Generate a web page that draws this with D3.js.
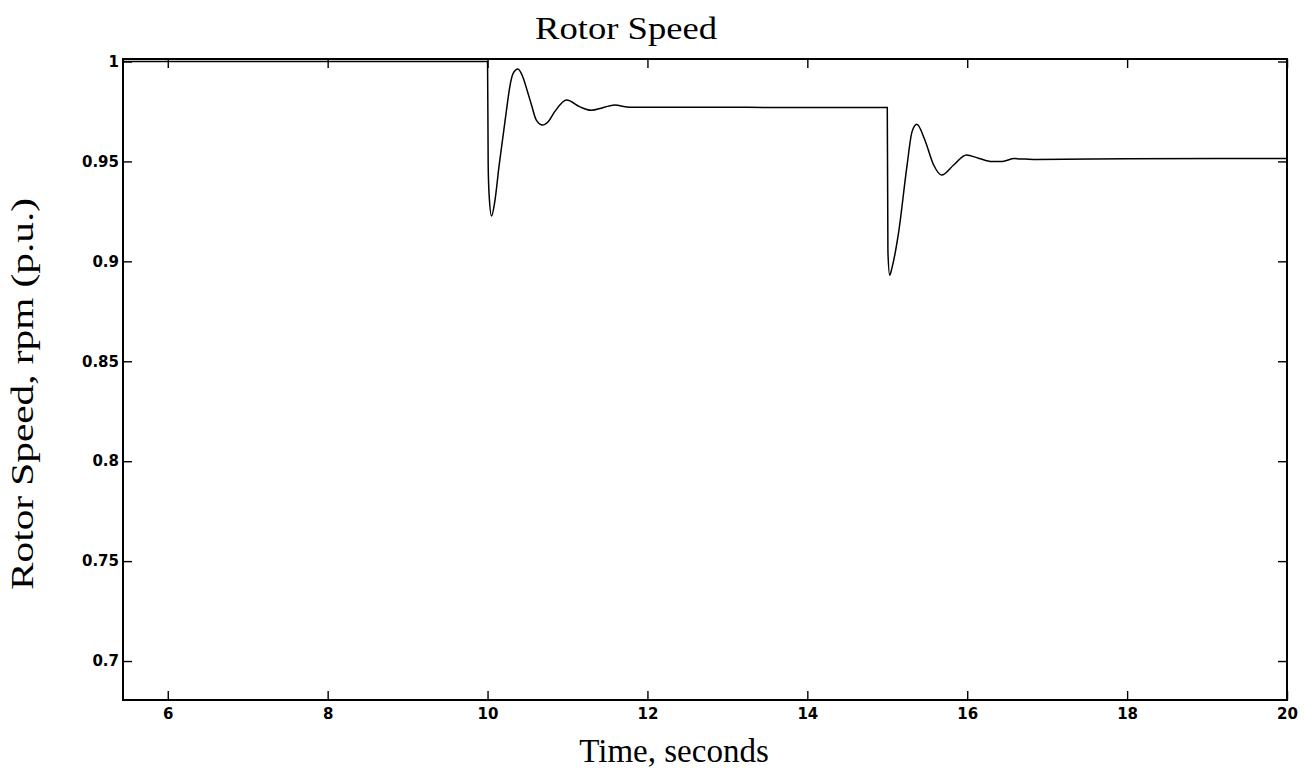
<!DOCTYPE html>
<html>
<head>
<meta charset="utf-8">
<script src="https://cdn.jsdelivr.net/npm/d3@7"></script>
<style>
  body { margin: 0; background: #fff; }
  .tick text { font-family: "DejaVu Sans", sans-serif; font-weight: bold; font-size: 15px; fill: #000; }
  .label { font-family: "Liberation Serif", "Times New Roman", serif; fill: #000; }
</style>
</head>
<body>
<svg id="chart" width="1304" height="768"></svg>
<script>
// rotor speed (time in s, speed in p.u.)
const timeValues = [
    5.44, 10.0, 10.008, 10.02, 10.05, 10.09, 10.145, 10.19, 10.24, 10.275, 10.32, 10.38,
    10.44, 10.50, 10.55, 10.61, 10.69, 10.76, 10.84, 10.99, 11.15, 11.30, 11.44, 11.59,
    11.78, 12.5, 14.0, 15.0,
    15.008, 15.03, 15.06, 15.14, 15.245, 15.31, 15.37, 15.47, 15.58, 15.68, 15.83, 15.99,
    16.14, 16.31, 16.44, 16.59, 16.86, 18.0, 20.0
];
const speedValues = [
    1.0, 1.0, 0.948, 0.933, 0.9227, 0.9298, 0.948, 0.9616, 0.9766, 0.9866, 0.9941, 0.9962,
    0.9924, 0.9849, 0.9782, 0.9707, 0.9682, 0.970, 0.9749, 0.9807, 0.9774, 0.9756, 0.9769, 0.9782,
    0.9771, 0.9771, 0.977, 0.977,
    0.905, 0.8931, 0.897, 0.914, 0.9473, 0.9649, 0.9686, 0.9607, 0.9482, 0.9432, 0.9482, 0.9532,
    0.9516, 0.9499, 0.950, 0.9514, 0.951, 0.9513, 0.9515
];
const xTicks = [6, 8, 10, 12, 14, 16, 18, 20];
const yTicks = [0.7, 0.75, 0.8, 0.85, 0.9, 0.95, 1];

const titleText = "Rotor Speed";
const xLabelText = "Time, seconds";
const yLabelText = "Rotor Speed, rpm (p.u.)";

const data = timeValues.map((t, i) => ({ t: t, v: speedValues[i] }));

const svg = d3.select("#chart");
const plotLeft = 123, plotRight = 1287, plotTop = 59, plotBottom = 700;

const x = d3.scaleLinear().domain([5.44, 20]).range([plotLeft, plotRight]);
const y = d3.scaleLinear().domain([0.6805, 1.00125]).range([plotBottom, plotTop]);

const fmt = d => String(+d.toFixed(2));
const tickLen = 9;

// outer axes with labels, inner (top/right) mirrors without labels
svg.append("g")
    .attr("transform", `translate(0,${plotBottom})`)
    .call(d3.axisBottom(x).tickValues(xTicks).tickFormat(fmt).tickSizeInner(-tickLen).tickSizeOuter(0).tickPadding(8));
svg.append("g")
    .attr("transform", `translate(${plotLeft},0)`)
    .call(d3.axisLeft(y).tickValues(yTicks).tickFormat(fmt).tickSizeInner(-tickLen).tickSizeOuter(0).tickPadding(4));
svg.append("g")
    .attr("transform", `translate(0,${plotTop})`)
    .call(d3.axisTop(x).tickValues(xTicks).tickFormat("").tickSizeInner(-tickLen).tickSizeOuter(0));
svg.append("g")
    .attr("transform", `translate(${plotRight},0)`)
    .call(d3.axisRight(y).tickValues(yTicks).tickFormat("").tickSizeInner(-tickLen).tickSizeOuter(0));

svg.selectAll(".domain").remove();
svg.selectAll(".tick line").attr("stroke", "#000").attr("stroke-width", 1.4);

// frame
svg.append("rect")
    .attr("x", plotLeft).attr("y", plotTop)
    .attr("width", plotRight - plotLeft).attr("height", plotBottom - plotTop)
    .attr("fill", "none").attr("stroke", "#000").attr("stroke-width", 2);

const line = d3.line()
    .x(d => x(d.t))
    .y(d => y(d.v))
    .curve(d3.curveMonotoneX);

svg.append("path")
    .datum(data)
    .attr("d", line)
    .attr("fill", "none")
    .attr("stroke", "#000")
    .attr("stroke-width", 1.5);

// the scanned figure is a bit stretched, so the labels get a fixed length
svg.append("text")
    .attr("class", "label")
    .attr("x", 626).attr("y", 39)
    .attr("text-anchor", "middle")
    .attr("font-size", "31px")
    .attr("textLength", 182)
    .attr("lengthAdjust", "spacingAndGlyphs")
    .text(titleText);

svg.append("text")
    .attr("class", "label")
    .attr("x", 674).attr("y", 762)
    .attr("text-anchor", "middle")
    .attr("font-size", "33px")
    .text(xLabelText);

svg.append("text")
    .attr("class", "label")
    .attr("transform", "translate(33,394) rotate(-90)")
    .attr("text-anchor", "middle")
    .attr("font-size", "32px")
    .attr("textLength", 392)
    .attr("lengthAdjust", "spacingAndGlyphs")
    .text(yLabelText);
</script>
</body>
</html>
